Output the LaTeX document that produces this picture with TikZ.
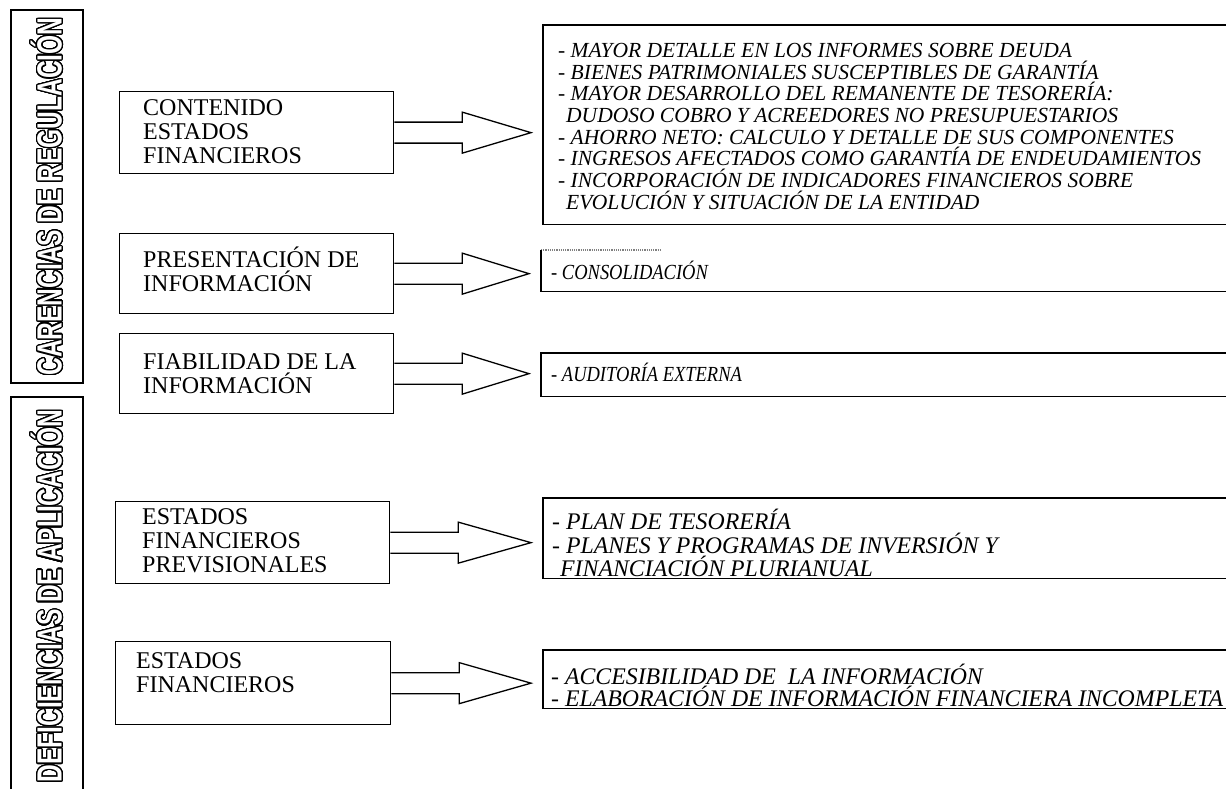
\documentclass[tikz,border=0pt]{standalone}
\usepackage{fontspec}
\setmainfont{Liberation Serif}
\newfontfamily\labfont[FakeStretch=0.7]{Liberation Sans}
\newfontfamily\narrowserif[FakeStretch=0.86]{Liberation Serif}
\usepackage{contour}
\contourlength{1.2pt}
\contournumber{32}
\usetikzlibrary{calc}
\newcommand\lbf{\fontsize{24}{24}\selectfont}
\newcommand\rbf{\fontsize{21.5}{21.7}\selectfont\itshape}
\newcommand\rbfn{\narrowserif\fontsize{21.5}{21.7}\selectfont\itshape}
\newcommand\rbfb{\fontsize{23.8}{23.5}\selectfont\itshape}
\newcommand\rbfc{\fontsize{23.8}{22}\selectfont\itshape}
\newcommand\vlf{\labfont\bfseries\fontsize{35}{36}\selectfont}
\begin{document}
\begin{tikzpicture}[x=1pt,y=-1pt,
  lbox/.style={draw, line width=1.3pt, inner sep=0pt, anchor=north west},
  ltext/.style={font=\lbf, align=left, inner sep=0pt, anchor=west},
  rbox/.style={inner sep=0pt, anchor=north west},
  rline/.style={line width=1.2pt},
  rtext/.style={font=\rbf, align=left, inner sep=0pt, anchor=north west},
  bigarrow/.style={draw, line width=1.3pt, line join=miter},
  vlabel/.style={draw, line width=1.2pt, rotate=90, inner sep=0pt, font=\vlf}]
\useasboundingbox (0,0) rectangle (1226,789);
\clip (0,0) rectangle (1226,789);
\fill[white] (0,0) rectangle (1226,789);

% vertical labels
\node[vlabel, minimum width=373pt, minimum height=72pt] (V1) at (47,196.5)
  {\contour{black}{\textcolor{white}{CARENCIAS DE REGULACIÓN}}};
\node[vlabel, minimum width=398pt, minimum height=72pt] (V2) at (47,596)
  {\contour{black}{\textcolor{white}{DEFICIENCIAS DE APLICACIÓN}}};

% left boxes
\node[lbox, minimum width=274pt, minimum height=82pt] (A) at (119,91) {};
\node[lbox, minimum width=274pt, minimum height=80pt] (B) at (119,233) {};
\node[lbox, minimum width=274pt, minimum height=80pt] (C) at (119,333) {};
\node[lbox, minimum width=274pt, minimum height=82pt] (D) at (115,501) {};
\node[lbox, minimum width=275pt, minimum height=83pt] (E) at (115,641) {};

\node[ltext] (At) at ($(A.west)+(24,-1)$) {CONTENIDO\\ESTADOS\\FINANCIEROS};
\node[ltext] (Bt) at ($(B.west)+(24,-1.5)$) {PRESENTACI\smash{Ó}N DE\\INFORMACIÓN};
\node[ltext] (Ct) at ($(C.west)+(24,0)$) {FIABILIDAD DE LA\\INFORMACIÓN};
\node[ltext] (Dt) at ($(D.west)+(27,-2)$) {ESTADOS\\FINANCIEROS\\PREVISIONALES};
\node[ltext] (Et) at ($(E.west)+(21,-10)$) {ESTADOS\\FINANCIEROS};

% right boxes (open on the right)
\node[rbox, minimum width=700pt, minimum height=199pt] (R1) at (543,25) {};
\node[rbox, minimum width=700pt, minimum height=41pt] (R2) at (541,250) {};
\node[rbox, minimum width=700pt, minimum height=43pt] (R3) at (541,353) {};
\node[rbox, minimum width=700pt, minimum height=80pt] (R4) at (543,498) {};
\node[rbox, minimum width=700pt, minimum height=58pt] (R5) at (543,650) {};

\draw[rline] (R1.north east) -- (R1.north west) -- (R1.south west) -- (R1.south east);
\draw[rline, densely dotted, gray] (R2.north west) -- ++(120,0);
\draw[rline] (R2.north west) -- (R2.south west) -- (R2.south east);
\draw[rline] (R3.north east) -- (R3.north west) -- (R3.south west) -- (R3.south east);
\draw[rline] (R4.north east) -- (R4.north west) -- (R4.south west) -- (R4.south east);
\draw[rline] (R5.north east) -- (R5.north west) -- (R5.south west) -- (R5.south east);

\node[rtext] (R1t) at ($(R1.north west)+(15,18)$) {%
- MAYOR DETALLE EN LOS INFORMES SOBRE DEUDA\\
- BIENES PATRIMONIALES SUSCEPTIBLES DE GARANTÍA\\
- MAYOR DESARROLLO DEL REMANENTE DE TESORERÍA:\\
\hspace*{8pt}DUDOSO COBRO Y ACREEDORES NO PRESUPUESTARIOS\\
- AHORRO NETO: CALCULO Y DETALLE DE SUS COMPONENTES\\
- INGRESOS AFECTADOS COMO GARANTÍA DE ENDEUDAMIENTOS\\
- INCORPORACIÓN DE INDICADORES FINANCIEROS SOBRE\\
\hspace*{8pt}EVOLUCIÓN Y SITUACIÓN DE LA ENTIDAD};
\node[rtext, font=\rbfn] (R2t) at ($(R2.north west)+(10,15)$) {- CONSOLIDACI\smash{Ó}N};
\node[rtext, font=\rbfn] (R3t) at ($(R3.north west)+(10,14)$) {- AUDITOR\smash{Í}A EXTERNA};
\node[rtext, font=\rbfb] (R4t) at ($(R4.north west)+(9,16)$) {%
- PLAN DE TESORER\smash{Í}A\\
- PLANES Y PROGRAMAS DE INVERSIÓN Y\\
\hspace*{8pt}FINANCIACIÓN PLURIANUAL};
\node[rtext, font=\rbfc] (R5t) at ($(R5.north west)+(8,19)$) {%
- ACCESIBILIDAD DE\ \ LA INFORMACI\smash{Ó}N\\
- ELABORACIÓN DE INFORMACIÓN FINANCIERA INCOMPLETA};

% arrows
\foreach \s/\t in {A/R1,B/R2,C/R3,D/R4,E/R5}{
  \draw[bigarrow] ($(\s.east)+(0,-10.5)$) -- ++(68,0) -- ++(0,-10)
    -- ($(\s.east -| \t.west)+(-12,0)$)
    -- ($(\s.east)+(68,20.5)$) -- ++(0,-10) -- ($(\s.east)+(0,10.5)$);
}
\end{tikzpicture}
\end{document}
